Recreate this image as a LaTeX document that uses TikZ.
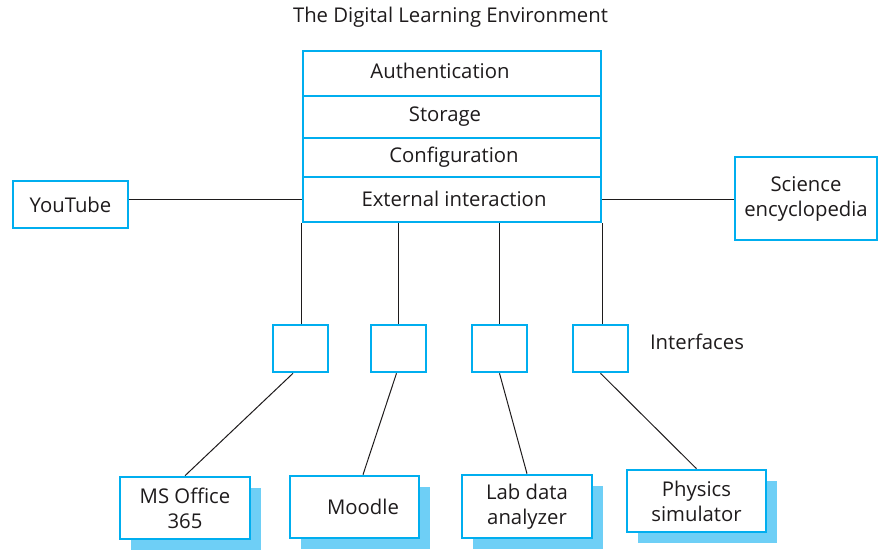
\documentclass[tikz,border=0pt]{standalone}
\usepackage{fontspec}
\setmainfont{Open Sans}
\usetikzlibrary{shadows}
\definecolor{boxblue}{RGB}{0,174,239}
\definecolor{shadowblue}{RGB}{110,207,246}
\definecolor{ink}{RGB}{30,27,28}
\begin{document}
\begin{tikzpicture}[x=1pt,y=-1pt,
  every node/.style={font=\fontsize{20.3}{25}\selectfont, text=ink, inner sep=0pt},
  bluebox/.style={draw=boxblue, line width=2.6pt, fill=white, rectangle, align=center},
  shadowbox/.style={bluebox, general shadow={fill=shadowblue, shadow xshift=11pt, shadow yshift=-11pt}},
  wire/.style={draw=ink, line width=1pt}]
\useasboundingbox (0,0) rectangle (881,549);

% title
\node (title) at (450.5,17) {The Digital Learning Environment};

% stack
\node[bluebox, minimum width=298pt, minimum height=45pt] (auth) at (452,73.5) {};
\node[bluebox, minimum width=298pt, minimum height=42pt] (stor) at (452,117) {};
\node[bluebox, minimum width=298pt, minimum height=39pt] (conf) at (452,157.5) {};
\node[bluebox, minimum width=298pt, minimum height=45pt] (ext) at (452,199.5) {};
\node (authtxt) at (440,71) {Authentication};
\node (stortxt) at (445,117) {Storage};
\node (conftxt) at (454,157) {Configuration};
\node (exttxt) at (454,199) {External interaction};

% side boxes
\node[bluebox, minimum width=115pt, minimum height=47pt] (yt) at (70.5,204.5) {YouTube};
\node[bluebox, minimum width=142pt, minimum height=83pt] (sci) at (806,198.5) {Science\\encyclopedia};
\draw[wire] (ext.west) -- (ext.west -| yt.east);
\draw[wire] (ext.east) -- (ext.east -| sci.west);

% interfaces
\node[bluebox, minimum width=55pt, minimum height=47pt] (i1) at (300.5,348.5) {};
\node[bluebox, minimum width=55pt, minimum height=47pt] (i2) at (398.5,348.5) {};
\node[bluebox, minimum width=55pt, minimum height=47pt] (i3) at (499.5,348.5) {};
\node[bluebox, minimum width=55pt, minimum height=47pt] (i4) at (600.5,348.5) {};
\node (iftxt) at (697,342) {Interfaces};

\draw[wire] (ext.south west) -- (ext.south west |- i1.north);
\draw[wire] (ext.south -| i2.north) -- (i2.north);
\draw[wire] (ext.south -| i3.north) -- (i3.north);
\draw[wire] (ext.south east) -- (ext.south east |- i4.north);

% applications
\node[shadowbox, minimum width=130pt, minimum height=62pt] (ms) at (185,508) {MS Office\\365};
\node[shadowbox, minimum width=129pt, minimum height=62pt] (moodle) at (354.5,507) {};
\node (moodletxt) at (363,507) {Moodle};
\node[shadowbox, minimum width=130pt, minimum height=63pt] (lab) at (527,506.5) {Lab data\\analyzer};
\node[shadowbox, minimum width=139pt, minimum height=62pt] (phys) at (696.5,501) {Physics\\simulator};

\draw[wire] ([xshift=-7.5pt]i1.south) -- (ms.north);
\draw[wire] ([xshift=-2pt]i2.south) -- ([xshift=8.5pt]moodle.north);
\draw[wire] (i3.south) -- (lab.north);
\draw[wire] (i4.south) -- (phys.north);
\end{tikzpicture}
\end{document}
